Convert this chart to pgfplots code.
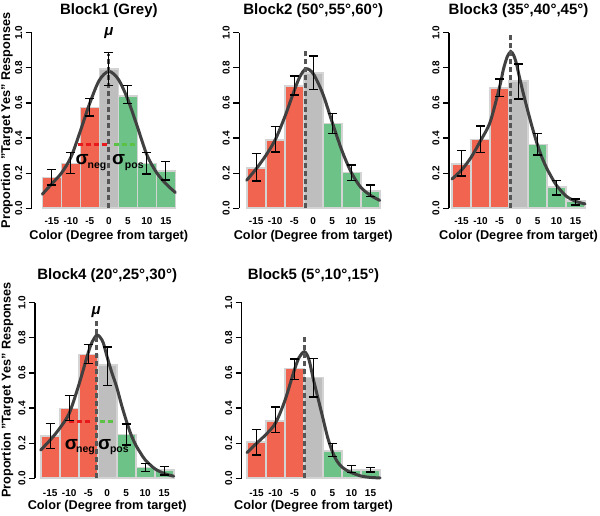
\documentclass[border=0pt]{standalone}
\usepackage{pgfplots}
\pgfplotsset{compat=1.18}
\usepackage{fontspec}
\setmainfont{Liberation Sans}
\definecolor{barred}{HTML}{F06450}
\definecolor{bargreen}{HTML}{6DC387}
\definecolor{bargrey}{HTML}{BEBEBE}
\definecolor{barborder}{HTML}{D4D4D4}
\definecolor{curvecol}{HTML}{404040}
\definecolor{mudash}{HTML}{555555}
\definecolor{sigred}{HTML}{E8191C}
\definecolor{siggreen}{HTML}{5CC246}

\pgfplotsset{
  blk/.style={
    scale only axis, height=175.5pt,
    ymin=0, ymax=1, xmax=18.5,
    clip=false,
    axis x line=bottom, axis y line=left,
    x axis line style={draw=none},
    y axis line style={-, line width=1.2pt, black},
    ytick={0,0.2,0.4,0.6,0.8,1.0},
    yticklabels={0.0,0.2,0.4,0.6,0.8,1.0},
    xtick=\empty,
    y tick style={line width=1.2pt, black},
    tick align=outside,
    major tick length=6pt,
    tick label style={font=\bfseries\fontsize{10}{12}\selectfont},
    yticklabel style={rotate=90, anchor=south},
    bar width=5,
  },
  redbar/.style={ybar, bar shift=0pt, fill=barred, draw=barborder, line width=1.6pt},
  greybar/.style={ybar, bar shift=0pt, fill=bargrey, draw=barborder, line width=1.6pt},
  greenbar/.style={ybar, bar shift=0pt, fill=bargreen, draw=barborder, line width=1.6pt},
  fitcurve/.style={smooth, line width=3pt, curvecol, line cap=round},
  mulne/.style={mudash, line width=3pt, dash pattern=on 5pt off 3pt},
  errb/.style={draw=none, mark=none, error bars/.cd, y dir=both, y explicit,
    error bar style={draw=black, line width=1.3pt},
    error mark options={draw=black, rotate=90, mark size=4.5pt, line width=1.3pt}},
}
\newcommand{\ttl}[1]{\bfseries\fontsize{15}{17}\selectfont #1}
\newcommand{\xlab}{\bfseries\fontsize{12.7}{15}\selectfont Color (Degree from target)}
\newcommand{\ylab}{\bfseries\fontsize{12.7}{15}\selectfont Proportion "Target Yes" Responses}
\newcommand{\sig}{\bfseries\fontsize{19}{21}\selectfont σ}
\newcommand{\sub}[1]{\bfseries\fontsize{10.5}{12}\selectfont #1}
\newcommand{\mulab}{\bfseries\itshape\fontsize{15}{17}\selectfont μ}
\newcommand{\tk}{\bfseries\fontsize{10}{12}\selectfont}
\newcommand{\xticks}[1]{%
  \node[anchor=base] at (axis cs:-15,#1) {\tk -15};
  \node[anchor=base] at (axis cs:-10,#1) {\tk -10};
  \node[anchor=base] at (axis cs:-5,#1) {\tk -5};
  \node[anchor=base] at (axis cs:0,#1) {\tk 0};
  \node[anchor=base] at (axis cs:5,#1) {\tk 5};
  \node[anchor=base] at (axis cs:10,#1) {\tk 10};
  \node[anchor=base] at (axis cs:15,#1) {\tk 15};
}

\begin{document}
\begin{tikzpicture}
\useasboundingbox (0,0) rectangle (600pt,516pt);

% ---------------- Block 1
\begin{axis}[blk, xmin=-20.3, width=147.44pt, at={(31.7pt,307.7pt)}, anchor=south west]
\addplot[redbar] coordinates {(-15,0.176) (-10,0.255) (-5,0.575)};
\addplot[greybar] coordinates {(0,0.795)};
\addplot[greenbar] coordinates {(5,0.641) (10,0.256) (15,0.213)};
\addplot[fitcurve] coordinates {(-17.5,0.08) (-15,0.14) (-12.5,0.20) (-10,0.29) (-7.5,0.44) (-5,0.60) (-2.5,0.73) (0,0.78) (2.5,0.735) (5,0.62) (7.5,0.465) (10,0.305) (12.5,0.205) (15,0.14) (17.5,0.09)};
\addplot[mulne] coordinates {(0,0) (0,0.88)};
\addplot[sigred, line width=3pt, dash pattern=on 5pt off 3pt] coordinates {(-8.2,0.365) (-0.4,0.365)};
\addplot[siggreen, line width=3pt, dash pattern=on 5pt off 3pt] coordinates {(1.3,0.365) (7.2,0.365)};
\addplot[errb] coordinates {
 (-15,0.176) += (0,0.046) -= (0,0.043)
 (-10,0.255) += (0,0.062) -= (0,0.056)
 (-5,0.575) += (0,0.049) -= (0,0.049)
 (0,0.795) += (0,0.091) -= (0,0.095)
 (5,0.641) += (0,0.057) -= (0,0.043)
 (10,0.256) += (0,0.063) -= (0,0.061)
 (15,0.213) += (0,0.053) -= (0,0.052)};
\node[anchor=base] at (axis cs:-7,0.25) {\sig};
\node[anchor=base] at (axis cs:-3.1,0.224) {\sub{neg}};
\node[anchor=base] at (axis cs:2.6,0.25) {\sig};
\node[anchor=base] at (axis cs:6.7,0.224) {\sub{pos}};
\node[anchor=base] at (axis cs:0,0.983) {\mulab};
\node[anchor=base] at (axis cs:0,1.103) {\ttl{Block1 (Grey)}};
\node[anchor=base] at (axis cs:0,-0.177) {\xlab};
\xticks{-0.0896}
\end{axis}

% ---------------- Block 2
\begin{axis}[blk, xmin=-19.45, width=144.21pt, at={(239.3pt,307.7pt)}, anchor=south west]
\addplot[redbar] coordinates {(-15,0.231) (-10,0.389) (-5,0.696)};
\addplot[greybar] coordinates {(0,0.772)};
\addplot[greenbar] coordinates {(5,0.484) (10,0.203) (15,0.099)};
\addplot[fitcurve] coordinates {(-17.5,0.16) (-15,0.225) (-12.5,0.30) (-10,0.39) (-7.5,0.52) (-5,0.67) (-3.5,0.75) (-1.9,0.795) (0,0.767) (2.5,0.654) (5,0.49) (7.5,0.332) (10,0.205) (12.5,0.12) (15,0.075) (17.5,0.045)};
\addplot[mulne] coordinates {(-1.9,0) (-1.9,0.90)};
\addplot[errb] coordinates {
 (-15,0.231) += (0,0.082) -= (0,0.075)
 (-10,0.389) += (0,0.076) -= (0,0.068)
 (-5,0.696) += (0,0.057) -= (0,0.051)
 (0,0.772) += (0,0.095) -= (0,0.095)
 (5,0.484) += (0,0.057) -= (0,0.057)
 (10,0.203) += (0,0.044) -= (0,0.045)
 (15,0.099) += (0,0.034) -= (0,0.033)};
\node[anchor=base] at (axis cs:0,1.103) {\ttl{Block2 (50°,55°,60°)}};
\node[anchor=base] at (axis cs:0,-0.177) {\xlab};
\xticks{-0.0896}
\end{axis}

% ---------------- Block 3
\begin{axis}[blk, xmin=-18.3, width=139.84pt, at={(449pt,307.7pt)}, anchor=south west]
\addplot[redbar] coordinates {(-15,0.252) (-10,0.393) (-5,0.687)};
\addplot[greybar] coordinates {(0,0.727)};
\addplot[greenbar] coordinates {(5,0.364) (10,0.120) (15,0.042)};
\addplot[fitcurve] coordinates {(-17.5,0.167) (-15,0.218) (-12.5,0.29) (-10,0.385) (-7.5,0.49) (-5,0.69) (-4,0.79) (-3,0.862) (-2.05,0.893) (-1.25,0.87) (-0.5,0.82) (0,0.77) (1.25,0.655) (2.5,0.55) (3.75,0.45) (5,0.36) (6.25,0.285) (7.5,0.225) (8.75,0.175) (10,0.13) (12.5,0.07) (15,0.04) (17.5,0.025)};
\addplot[mulne] coordinates {(-2.05,0) (-2.05,0.996)};
\addplot[errb] coordinates {
 (-15,0.252) += (0,0.076) -= (0,0.068)
 (-10,0.393) += (0,0.076) -= (0,0.076)
 (-5,0.687) += (0,0.049) -= (0,0.051)
 (0,0.727) += (0,0.095) -= (0,0.105)
 (5,0.364) += (0,0.063) -= (0,0.060)
 (10,0.120) += (0,0.038) -= (0,0.044)
 (15,0.042) += (0,0.011) -= (0,0.023)};
\node[anchor=base] at (axis cs:0,1.103) {\ttl{Block3 (35°,40°,45°)}};
\node[anchor=base] at (axis cs:0,-0.177) {\xlab};
\xticks{-0.0896}
\end{axis}

% ---------------- Block 4
\begin{axis}[blk, xmin=-19.0, width=142.5pt, at={(35pt,37.7pt)}, anchor=south west]
\addplot[redbar] coordinates {(-15,0.240) (-10,0.398) (-5,0.706)};
\addplot[greybar] coordinates {(0,0.644)};
\addplot[greenbar] coordinates {(5,0.250) (10,0.0625) (15,0.047)};
\addplot[fitcurve] coordinates {(-17.5,0.161) (-15,0.218) (-12.5,0.285) (-10,0.37) (-7.5,0.53) (-5,0.715) (-4,0.775) (-2.7,0.817) (-1.75,0.80) (-1,0.77) (0,0.69) (1.25,0.60) (2.5,0.52) (3.75,0.42) (5,0.33) (6.25,0.25) (7.5,0.19) (8.75,0.145) (10,0.105) (12.5,0.055) (15,0.027) (17.5,0.012)};
\addplot[mulne] coordinates {(-2.7,0) (-2.7,0.90)};
\addplot[sigred, line width=3pt, dash pattern=on 5pt off 3pt] coordinates {(-10,0.322) (-4.5,0.322)};
\addplot[siggreen, line width=3pt, dash pattern=on 5pt off 3pt] coordinates {(-2,0.322) (1.9,0.322)};
\addplot[errb] coordinates {
 (-15,0.240) += (0,0.072) -= (0,0.070)
 (-10,0.398) += (0,0.072) -= (0,0.070)
 (-5,0.706) += (0,0.057) -= (0,0.053)
 (0,0.644) += (0,0.104) -= (0,0.114)
 (5,0.250) += (0,0.059) -= (0,0.061)
 (10,0.0625) += (0,0.023) -= (0,0.025)
 (15,0.047) += (0,0.019) -= (0,0.028)};
\node[anchor=base] at (axis cs:-9.4,0.165) {\sig};
\node[anchor=base] at (axis cs:-5.7,0.146) {\sub{neg}};
\node[anchor=base] at (axis cs:-0.65,0.165) {\sig};
\node[anchor=base] at (axis cs:3.2,0.146) {\sub{pos}};
\node[anchor=base] at (axis cs:-2.9,0.936) {\mulab};
\node[anchor=base] at (axis cs:0,1.135) {\ttl{Block4 (20°,25°,30°)}};
\node[anchor=base] at (axis cs:0,-0.176) {\xlab};
\xticks{-0.105}
\end{axis}

% ---------------- Block 5
\begin{axis}[blk, xmin=-18.9, width=142.12pt, at={(241.7pt,37.7pt)}, anchor=south west]
\addplot[redbar] coordinates {(-15,0.208) (-10,0.328) (-5,0.625)};
\addplot[greybar] coordinates {(0,0.574)};
\addplot[greenbar] coordinates {(5,0.155) (10,0.047) (15,0.047)};
\addplot[fitcurve] coordinates {(-17.5,0.146) (-15,0.199) (-12.5,0.25) (-10,0.315) (-7.5,0.445) (-5,0.62) (-3.75,0.69) (-2.4,0.721) (-1.25,0.68) (0,0.56) (1.25,0.45) (2.5,0.34) (3.75,0.23) (5,0.15) (6.25,0.095) (7.5,0.064) (8.75,0.045) (10,0.032) (12.5,0.013) (15,0.005) (17.5,0.002)};
\addplot[mulne] coordinates {(-2.4,0) (-2.4,0.81)};
\addplot[errb] coordinates {
 (-15,0.208) += (0,0.072) -= (0,0.075)
 (-10,0.328) += (0,0.079) -= (0,0.069)
 (-5,0.625) += (0,0.055) -= (0,0.061)
 (0,0.574) += (0,0.108) -= (0,0.110)
 (5,0.155) += (0,0.042) -= (0,0.032)
 (10,0.047) += (0,0.025) -= (0,0.015)
 (15,0.047) += (0,0.016) -= (0,0.011)};
\node[anchor=base] at (axis cs:0,1.135) {\ttl{Block5 (5°,10°,15°)}};
\node[anchor=base] at (axis cs:0,-0.176) {\xlab};
\xticks{-0.105}
\end{axis}

\node[rotate=90, anchor=base] at (10pt,395.5pt) {\ylab};
\node[rotate=90, anchor=base] at (10.5pt,126pt) {\ylab};
\end{tikzpicture}
\end{document}
